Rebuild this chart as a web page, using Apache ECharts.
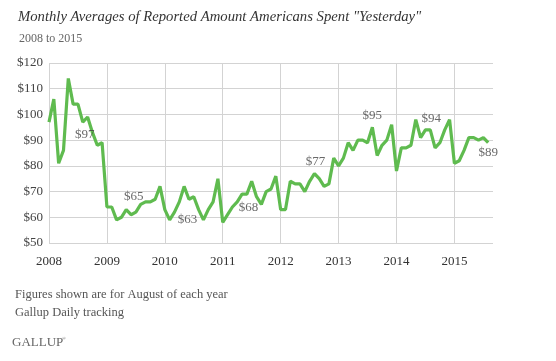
<!DOCTYPE html>
<html><head><meta charset="utf-8">
<script src="https://cdn.jsdelivr.net/npm/echarts@6/dist/echarts.min.js"></script>
<style>html,body{margin:0;padding:0;background:#fff}#c{width:556px;height:361px}</style>
</head><body><div id="c"></div>
<script>
const years = ['2008','2009','2010','2011','2012','2013','2014','2015'];
const values2008 = [97,106,81,86,114,104,104,97,99,93,88,89];
const values2009 = [64,64,59,60,63,61,62,65,66,66,67,72];
const values2010 = [63,59,62,66,72,67,68,63,59,63,66,75];
const values2011 = [58,61,64,66,69,69,74,68,65,70,71,76];
const values2012 = [63,63,74,73,73,70,74,77,75,72,73,83];
const values2013 = [80,83,89,86,90,90,89,95,84,88,90,96];
const values2014 = [78,87,87,88,98,91,94,94,87,89,94,98];
const values2015 = [81,82,86,91,91,90,91,89];
const yTickValues = [50,60,70,80,90,100,110,120];
const labelledMonth = 7; // August

const yearValues = [values2008,values2009,values2010,values2011,values2012,values2013,values2014,values2015];
const categories = [];
const values = [];
yearValues.forEach((arr, yi) => arr.forEach((v, mi) => { categories.push(years[yi] + '-' + (mi + 1)); values.push(v); }));
// one trailing empty slot so the plot extends slightly past the last month
categories.push('');
values.push(null);

// label placement (styling only)
const labelOffsets = [[2,12],[-7,-8],[-11,10],[-8,11],[1,-12],[0,-12],[1,-11],[0,10]];
const augPoints = yearValues.map((arr, yi) => ({
  value: [yi * 12 + labelledMonth, arr[labelledMonth]],
  label: { offset: labelOffsets[yi] }
}));

const serif = '"Liberation Serif", "DejaVu Serif", serif';
const chart = echarts.init(document.getElementById('c'), null, { renderer: 'canvas' });
chart.setOption({
  animation: false,
  backgroundColor: '#fff',
  title: [
    { text: 'Monthly Averages of Reported Amount Americans Spent "Yesterday"', left: 13, top: 5,
      textStyle: { fontFamily: serif, fontStyle: 'italic', fontWeight: 'normal', fontSize: 14.7, color: '#333' } },
    { text: '2008 to 2015', left: 14, top: 28,
      textStyle: { fontFamily: serif, fontWeight: 'normal', fontSize: 12, color: '#666' } }
  ],
  grid: { left: 49, right: 63, top: 63, bottom: 118 },
  xAxis: {
    type: 'category', data: categories, boundaryGap: false,
    axisLine: { show: false }, axisTick: { show: false },
    axisLabel: { interval: (i) => i % 12 === 0, formatter: (v) => v.slice(0, 4), margin: 12,
      fontFamily: serif, fontSize: 13, color: '#333' },
    splitLine: { show: true, interval: (i) => i % 12 === 0, lineStyle: { color: '#d3d3d3', width: 1 } }
  },
  yAxis: {
    type: 'value', min: yTickValues[0], max: yTickValues[yTickValues.length - 1], interval: 10,
    axisLine: { show: false }, axisTick: { show: false },
    axisLabel: { formatter: (v) => '$' + v, margin: 6, fontFamily: serif, fontSize: 13, color: '#444' },
    splitLine: { show: true, lineStyle: { color: '#d3d3d3', width: 1 } }
  },
  series: [
    { type: 'line', data: values, showSymbol: false, connectNulls: false,
      lineStyle: { color: '#5fbb4f', width: 3.2 }, itemStyle: { color: '#5fbb4f' }, z: 3 },
    { type: 'scatter', data: augPoints, symbolSize: 1, itemStyle: { color: 'rgba(0,0,0,0)' }, z: 4,
      label: { show: true, position: 'inside', formatter: (p) => '$' + p.value[1],
        fontFamily: serif, fontSize: 13, color: '#444' } }
  ],
  graphic: [
    { type: 'text', left: 15, top: 288, style: { text: 'Figures shown are for August of each year', font: '12.5px ' + serif, fill: '#555' } },
    { type: 'text', left: 15, top: 306, style: { text: 'Gallup Daily tracking', font: '12.5px ' + serif, fill: '#555' } },
    { type: 'text', left: 12, top: 336, style: { text: 'GALLUP', font: '13px ' + serif, fill: '#666' } },
    { type: 'text', left: 62, top: 336, style: { text: '®', font: '5px ' + serif, fill: '#666' } }
  ]
});
</script>
</body></html>
